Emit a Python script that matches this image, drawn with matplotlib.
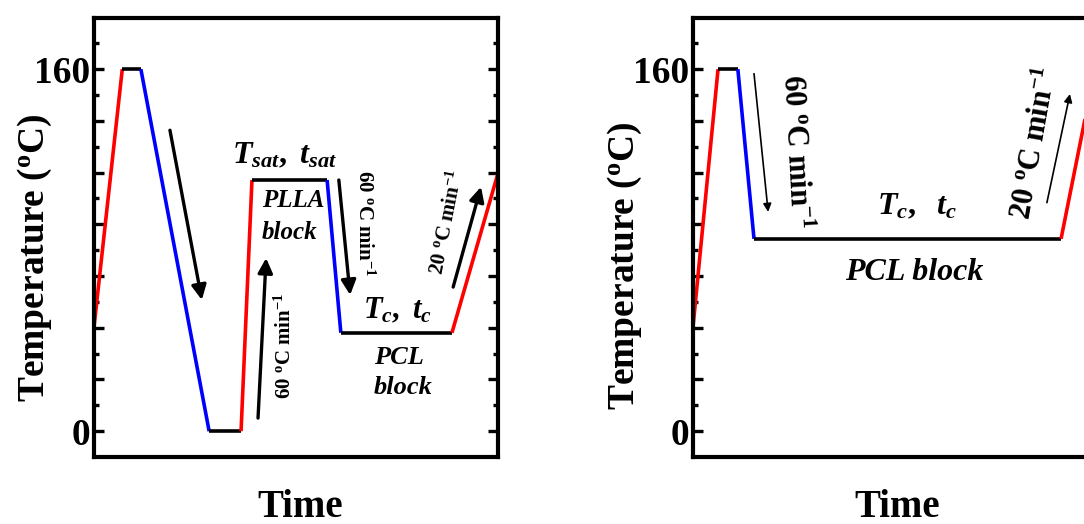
import matplotlib
matplotlib.use("Agg")
import matplotlib.pyplot as plt
import numpy as np

# --- data (time in arbitrary units, temperature in C) ---
left_time = [0, 7, 11.6, 28.5, 36.4, 39.1, 57.7, 61.1, 88.6, 100]
left_temp = [46, 160, 160, 0, 0, 111, 111, 43.5, 43.5, 114]
left_colors = ['red', 'black', 'blue', 'black', 'red', 'black', 'blue', 'black', 'red']

right_time = [0, 6.2, 11.1, 15.1, 91.1, 99.5]
right_temp = [46, 160, 160, 85, 85, 160]
right_colors = ['red', 'black', 'blue', 'black', 'red']

ytick_vals = np.linspace(0, 160, 8)
ytick_labels = ['0', '', '', '', '', '', '', '160']

plt.rcParams['font.family'] = ['Liberation Serif', 'DejaVu Serif']
plt.rcParams['font.weight'] = 'bold'
plt.rcParams['mathtext.fontset'] = 'custom'
plt.rcParams['mathtext.rm'] = 'Liberation Serif:bold'
plt.rcParams['mathtext.bf'] = 'Liberation Serif:bold'
plt.rcParams['mathtext.it'] = 'Liberation Serif:italic:bold'

rate60 = r'60 $^{\mathrm{o}}$C min$^{-1}$'
rate20 = r'20 $^{\mathrm{o}}$C min$^{-1}$'

fig = plt.figure(figsize=(10.84, 5.24), dpi=100)
ax1 = fig.add_axes([94/1084, 1 - 457/524, 404/1084, 439/524])
ax2 = fig.add_axes([693/1084, 1 - 457/524, 404/1084, 439/524])


def draw_profile(ax, t, T, cols):
    for i in range(len(t) - 1):
        ax.plot(t[i:i+2], T[i:i+2], color=cols[i], lw=2.6, solid_capstyle='butt')


def style_axes(ax, ylab_x, ylab_y):
    ax.set_xlim(0, 100)
    ax.set_ylim(-11.4, 182.6)
    ax.set_xticks([])
    ax.set_yticks(ytick_vals)
    ax.set_yticklabels(ytick_labels)
    ax.set_yticks(ytick_vals + 160/14, minor=True)
    ax.tick_params(axis='y', which='both', direction='in', left=True, right=True, width=2.4)
    ax.tick_params(axis='y', which='major', length=7, pad=3, labelsize=27)
    ax.tick_params(axis='y', which='minor', length=3.5)
    for s in ax.spines.values():
        s.set_linewidth(3)
    ax.set_ylabel(r'Temperature ($^{\mathrm{o}}$C)', fontsize=27, fontweight='bold')
    ax.yaxis.set_label_coords(ylab_x, ylab_y)
    ax.set_xlabel('Time', fontsize=28, fontweight='bold')


def arrow(ax, start, end, lw, ms):
    ax.annotate('', xy=end, xytext=start,
                arrowprops=dict(arrowstyle='-|>', lw=lw, color='black', mutation_scale=ms,
                                shrinkA=0, shrinkB=0))


# left panel
draw_profile(ax1, left_time, left_temp, left_colors)
style_axes(ax1, -0.10, 0.455)
ax1.xaxis.set_label_coords(0.51, -0.072)
arrow(ax1, (18.8, 133), (26.7, 58), 2.4, 22)
arrow(ax1, (40.6, 5.8), (42.6, 76.5), 2.4, 22)
arrow(ax1, (60.6, 111), (63.4, 60.2), 2.4, 22)
arrow(ax1, (88.9, 63.7), (95.8, 108), 2.4, 22)

ax1.text(47.3, 121.5, r'$T_{sat},\ t_{sat}$', fontsize=23, ha='center', va='center')
ax1.text(41.6, 102, 'PLLA', fontsize=18, style='italic', ha='left', va='center')
ax1.text(41.6, 88, 'block', fontsize=18, style='italic', ha='left', va='center')
ax1.text(47.3, 37.6, rate60, fontsize=15, rotation=90, ha='center', va='center')
ax1.text(66.8, 92, rate60, fontsize=15, rotation=-90, ha='center', va='center')
ax1.text(75.2, 53, r'$T_{c},\ t_{c}$', fontsize=22, ha='center', va='center')
ax1.text(75.5, 32.7, 'PCL', fontsize=19, style='italic', ha='center', va='center')
ax1.text(76.5, 19.5, 'block', fontsize=19, style='italic', ha='center', va='center')
ax1.text(87.6, 92.5, rate20, fontsize=15, rotation=79, ha='center', va='center')

# right panel (cut off at the figure edge)
draw_profile(ax2, right_time, right_temp, right_colors)
style_axes(ax2, -0.121, 0.435)
ax2.xaxis.set_label_coords(0.505, -0.072)
arrow(ax2, (15.1, 158), (18.6, 96.9), 1.2, 12)
arrow(ax2, (87.6, 101), (93.3, 149), 1.2, 12)

ax2.text(25.2, 123.4, rate60, fontsize=22, rotation=-87, ha='center', va='center')
ax2.text(55.4, 99, r'$T_{c},\ \ t_{c}$', fontsize=23, ha='center', va='center')
ax2.text(54.7, 70.3, 'PCL block', fontsize=23, style='italic', ha='center', va='center')
ax2.text(84.9, 127.4, rate20, fontsize=22, rotation=80, ha='center', va='center')

fig.savefig('out.png', dpi=100)
